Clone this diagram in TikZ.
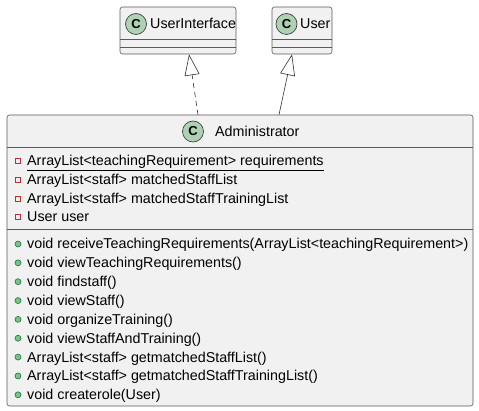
\documentclass[tikz,border=0pt]{standalone}
\usepackage{fontspec}
\setmainfont{Liberation Sans}
\usetikzlibrary{arrows.meta,calc}
\definecolor{BoxFill}{HTML}{F1F1F1}
\definecolor{BoxLine}{HTML}{5A5A5A}
\definecolor{SpotLine}{HTML}{303030}
\definecolor{SpotFill}{HTML}{ADD1B2}
\definecolor{PrivRed}{HTML}{C82930}
\definecolor{PubGreen}{HTML}{038048}
\definecolor{PubFill}{HTML}{84BE84}

\begin{document}
\begin{tikzpicture}[x=1pt, y=-1pt,
    classbox/.style={draw=BoxLine, fill=BoxFill, rounded corners=2.5pt, line width=0.6pt,
                     inner sep=0pt},
    spot/.style={circle, draw=SpotLine, fill=SpotFill, line width=0.6pt, minimum size=21pt,
                 inner sep=0pt, font=\fontsize{13}{13}\selectfont\bfseries},
    member/.style={anchor=base west, inner sep=0pt, font=\fontsize{14.3}{16}\selectfont},
    title/.style={anchor=base west, inner sep=0pt, font=\fontsize{14.3}{16}\selectfont},
    inherit/.style={draw=SpotLine, line width=0.6pt, -{Triangle[open, length=21pt, width=15pt]}}
  ]
    \useasboundingbox (0,0) rectangle (479,411);
    % classes
    \node[classbox, minimum width=116pt, minimum height=47pt] (ui)    at (178,30.5) {};
    \node[classbox, minimum width=60pt,  minimum height=47pt] (user)  at (302,30.5) {};
    \node[classbox, minimum width=466pt, minimum height=291pt] (admin) at (240,260.5) {};
    % compartments
    \draw[BoxLine, line width=0.6pt] (120,39) -- (236,39) (120,47) -- (236,47);
    \draw[BoxLine, line width=0.6pt] (272,39) -- (332,39) (272,47) -- (332,47);
    \draw[BoxLine, line width=0.6pt] (7,147) -- (473,147) (7,229) -- (473,229);
    % headers
    \node[spot] (uispot) at (136,24) {C};
    \node[title] (uiname) at (150,29) {UserInterface};
    \node[spot] (userspot) at (286.5,24) {C};
    \node[title] (username) at (300,29) {User};
    \node[spot] (adminspot) at (193,131.5) {C};
    \node[title] (adminname) at (215,136.5) {Administrator};
    % fields
    \foreach \yy/\txt [count=\i] in {161/\underline{ArrayList<teachingRequirement> requirements},
        180/ArrayList<staff> matchedStaffList,
        198.5/ArrayList<staff> matchedStaffTrainingList,
        217/User user} {
      \draw[PrivRed, line width=0.6pt] (15.5,\yy-2.5) rectangle ++(5,5);
      \node[member] (field\i) at (27,\yy+5) {\txt};
    }
    % methods
    \foreach \txt [count=\i] in {void receiveTeachingRequirements(ArrayList<teachingRequirement>),
        void viewTeachingRequirements(), void findstaff(), void viewStaff(),
        void organizeTraining(), void viewStaffAndTraining(),
        ArrayList<staff> getmatchedStaffList(), ArrayList<staff> getmatchedStaffTrainingList(),
        void createrole(User)} {
      \pgfmathsetmacro\yy{244+(\i-1)*18.85}
      \draw[PubGreen, fill=PubFill, line width=0.6pt] (18,\yy) circle (3);
      \node[member] (method\i) at (27,\yy+5) {\txt};
    }
    % relations
    \draw[inherit, dash pattern=on 5pt off 4pt] ($(admin.north)+(-42,0)$) -- ($(ui.south)+(11,0)$);
    \draw[inherit] ($(admin.north)+(39,0)$) -- ($(user.south)+(-10,0)$);
  \end{tikzpicture}
\end{document}
